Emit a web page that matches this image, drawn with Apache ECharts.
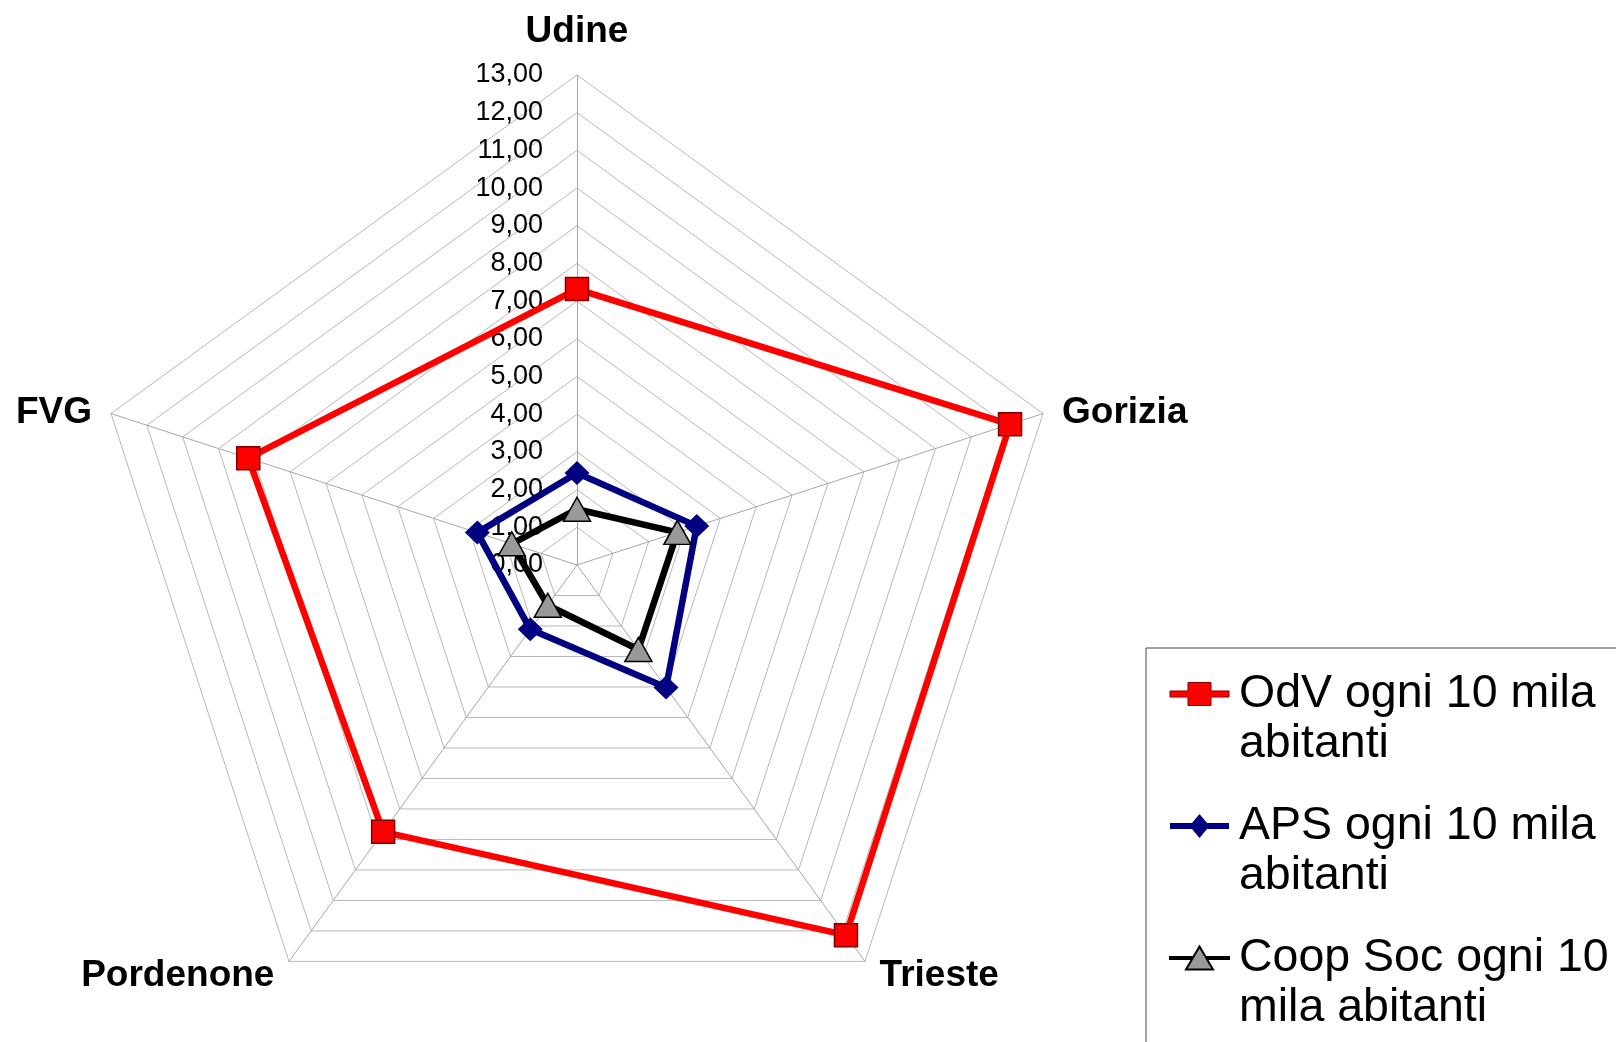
<!DOCTYPE html>
<html>
<head>
<meta charset="utf-8">
<script src="https://cdn.jsdelivr.net/npm/echarts@6/dist/echarts.min.js"></script>
<style>
  html, body { margin: 0; padding: 0; background: #fff; }
  #radar { width: 1616px; height: 1042px; }
</style>
</head>
<body>
<div id="radar"></div>
<script>
// indicators in ECharts order (counter-clockwise from the top)
const regions = ['Udine', 'FVG', 'Pordenone', 'Trieste', 'Gorizia'];
const odv = [7.32, 9.17, 8.75, 12.14, 12.08];
const aps = [2.44, 2.78, 2.11, 4.02, 3.34];
const coop = [1.48, 1.82, 1.32, 2.77, 2.80];
const axisMax = 13;

const seriesNames = ['OdV ogni 10 mila abitanti', 'APS ogni 10 mila abitanti', 'Coop Soc ogni 10 mila abitanti'];
// leading blank line keeps the icon level with the first text line
const legendLabels = {
  'OdV ogni 10 mila abitanti': '\u00a0\nOdV ogni 10 mila\nabitanti',
  'APS ogni 10 mila abitanti': '\u00a0\nAPS ogni 10 mila\nabitanti',
  'Coop Soc ogni 10 mila abitanti': '\u00a0\nCoop Soc ogni 10\nmila abitanti'
};

const font = "'Liberation Sans', Arial, sans-serif";

// legend icons: line with the marker in the middle
const iconSquare = 'path://M0,9H18V0.5H41V9H59V15H41V23.5H18V15H0Z';
const iconDiamond = 'path://M0,9H22L29.5,0L37,9H59V15H37L29.5,24L22,15H0Z';
const iconTriangle = 'path://M0,11H23.3L29.5,0.5L35.7,11H59V13H36.8L43,23.5H16L22.2,13H0Z';

// per-axis label placement
const nameGaps = {Udine: 25, FVG: 20, Pordenone: 18, Trieste: 18, Gorizia: 20};
const nameStyle = {color: '#000', fontSize: 37, fontWeight: 'bold', fontFamily: font};
const nameRich = {
  FVG: {padding: [11, 0, 0, 0]},
  Gorizia: {padding: [11, 0, 0, 0]},
  Pordenone: {padding: [0, 4, 0, 0]},
  Trieste: {padding: [0, 0, 0, 4]}
};

const option = {
  animation: false,
  backgroundColor: '#fff',
  legend: {
    orient: 'vertical',
    left: 1146,
    top: 648,
    height: 600,
    padding: [-29, 200, 200, 23],
    itemWidth: 59,
    itemHeight: 24,
    itemGap: -18,
    borderColor: '#444',
    borderWidth: 1,
    selectedMode: false,
    textStyle: {
      fontSize: 46.5,
      lineHeight: 50,
      color: '#000',
      fontFamily: font,
      padding: [0, 0, 0, 5]
    },
    formatter: name => legendLabels[name],
    data: [
      {name: seriesNames[0], icon: iconSquare, itemStyle: {color: '#ff0000', borderColor: '#800000', borderWidth: 1}},
      {name: seriesNames[1], icon: iconDiamond, itemStyle: {color: '#000080', borderWidth: 0}},
      {name: seriesNames[2], icon: iconTriangle, itemStyle: {color: '#999999', borderColor: '#000', borderWidth: 2}}
    ]
  },
  radar: {
    center: [577, 565],
    radius: 490,
    startAngle: 90,
    shape: 'polygon',
    splitNumber: 13,
    nameGap: 20,
    indicator: regions.map((name, i) => ({
      name: name,
      min: 0,
      max: axisMax,
      nameGap: nameGaps[name],
      axisLabel: {show: i === 0}
    })),
    axisName: Object.assign({}, nameStyle, {
      formatter: name => nameRich[name] ? '{' + name + '|' + name + '}' : name,
      rich: Object.fromEntries(Object.keys(nameRich).map(k => [k, Object.assign({}, nameStyle, nameRich[k])]))
    }),
    axisLine: {lineStyle: {color: '#a6a6a6', width: 1}},
    splitLine: {lineStyle: {color: '#b8b8b8', width: 1}},
    splitArea: {show: false},
    axisTick: {show: false},
    axisLabel: {
      show: false,
      color: '#000',
      fontSize: 27,
      fontFamily: font,
      margin: 34,
      formatter: v => Number(v).toFixed(2).replace('.', ',')
    }
  },
  series: [{
    type: 'radar',
    data: [
      {
        name: seriesNames[0],
        value: odv,
        symbol: 'rect',
        symbolSize: 23,
        lineStyle: {color: '#ff0000', width: 6.5},
        itemStyle: {color: '#ff0000', borderColor: '#800000', borderWidth: 1.5}
      },
      {
        name: seriesNames[1],
        value: aps,
        symbol: 'diamond',
        symbolSize: [25, 24],
        lineStyle: {color: '#000080', width: 6.5},
        itemStyle: {color: '#000080'}
      },
      {
        name: seriesNames[2],
        value: coop,
        symbol: 'triangle',
        symbolSize: [27, 24],
        lineStyle: {color: '#000', width: 6.5},
        itemStyle: {color: '#999999', borderColor: '#000', borderWidth: 1.5}
      }
    ]
  }]
};

const chart = echarts.init(document.getElementById('radar'), null, {renderer: 'canvas'});
chart.setOption(option);
</script>
</body>
</html>
